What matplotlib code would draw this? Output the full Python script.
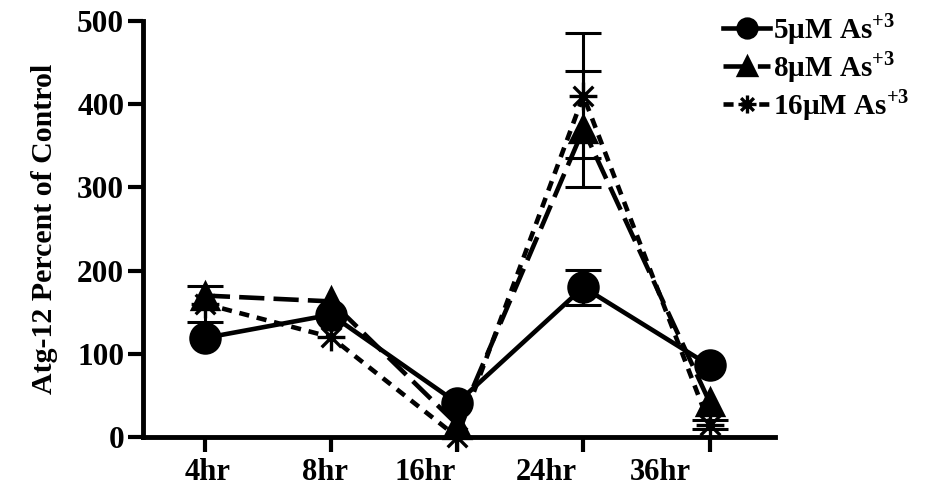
import matplotlib
matplotlib.use("Agg")
import matplotlib.pyplot as plt
from matplotlib.path import Path

# data
times = ["4hr", "8hr", "16hr", "24hr", "36hr"]
as5 = [119, 147, 41, 180, 86]
as5_err = [0, 0, 0, 21, 0]
as8 = [170, 163, 15, 370, 42]
as8_err = [0, 0, 0, 70, 0]
as16 = [160, 120, 0, 410, 15]
as16_err = [22, 0, 0, 75, 5]

plt.rcParams["font.family"] = ["Liberation Serif", "DejaVu Serif"]
plt.rcParams["font.weight"] = "bold"
plt.rcParams["mathtext.fontset"] = "custom"
plt.rcParams["mathtext.rm"] = "Liberation Serif"
plt.rcParams["mathtext.bf"] = "Liberation Serif:bold"

# asterisk marker (8 arms)
d = 0.707
star = Path(
    [(-1, 0), (1, 0), (0, -1), (0, 1), (-d, -d), (d, d), (-d, d), (d, -d)],
    [Path.MOVETO, Path.LINETO] * 4,
)

fig = plt.figure(figsize=(9.25, 4.88), dpi=100)
ax = fig.add_axes([0.1546, 0.1045, 0.6834, 0.8525])

x = list(range(len(times)))
series = [
    (as16, as16_err, star, 20, (0, (2.2, 1.7)), r"16µM As$^{+3}$", 3),
    (as8, as8_err, "^", 19, (0, (5.5, 2.0)), r"8µM As$^{+3}$", 4),
    (as5, as5_err, "o", 21, "-", r"5µM As$^{+3}$", 5),
]

lines = {}
for vals, errs, mk, ms, ls, lab, z in series:
    ln, = ax.plot(x, vals, color="black", lw=3.3, linestyle=ls, marker=mk,
                  ms=ms, mew=2.4, label=lab, zorder=z, clip_on=False)
    lines[lab] = ln
    # only draw bars where there is an error value
    ex = [xi for xi, e in zip(x, errs) if e > 0]
    ey = [v for v, e in zip(vals, errs) if e > 0]
    ee = [e for e in errs if e > 0]
    ax.errorbar(ex, ey, yerr=ee, fmt="none", ecolor="black", elinewidth=2.2,
                capsize=13, capthick=2.2, zorder=z, clip_on=False)

ax.set_xlim(-0.49, 4.52)
ax.set_ylim(0, 500)
ax.set_yticks([0, 100, 200, 300, 400, 500])

# ticks at the time points, labels drawn slightly shifted like the original
ax.set_xticks(x)
ax.set_xticklabels([])
ax.set_xticks([0.02, 0.95, 1.75, 2.71, 3.61], minor=True)
ax.set_xticklabels(times, minor=True)
ax.tick_params(axis="x", which="minor", length=0, pad=15, labelsize=22)
ax.tick_params(axis="both", which="major", direction="out", length=10.5,
               width=3, labelsize=22.5)
ax.tick_params(axis="y", pad=3)

for side in ("top", "right"):
    ax.spines[side].set_visible(False)
for side in ("left", "bottom"):
    ax.spines[side].set_linewidth(3.5)

ax.set_ylabel("Atg-12 Percent of Control", fontsize=21.5, fontweight="bold",
              labelpad=14)

order = [r"5µM As$^{+3}$", r"8µM As$^{+3}$", r"16µM As$^{+3}$"]
leg = fig.legend([lines[k] for k in order], order, loc="upper left",
                 bbox_to_anchor=(0.760, 1.02), frameon=False, fontsize=21,
                 handlelength=1.6, handletextpad=0.1, labelspacing=0.08,
                 borderpad=0.2, markerscale=0.65)

fig.savefig("out.png", dpi=100)
